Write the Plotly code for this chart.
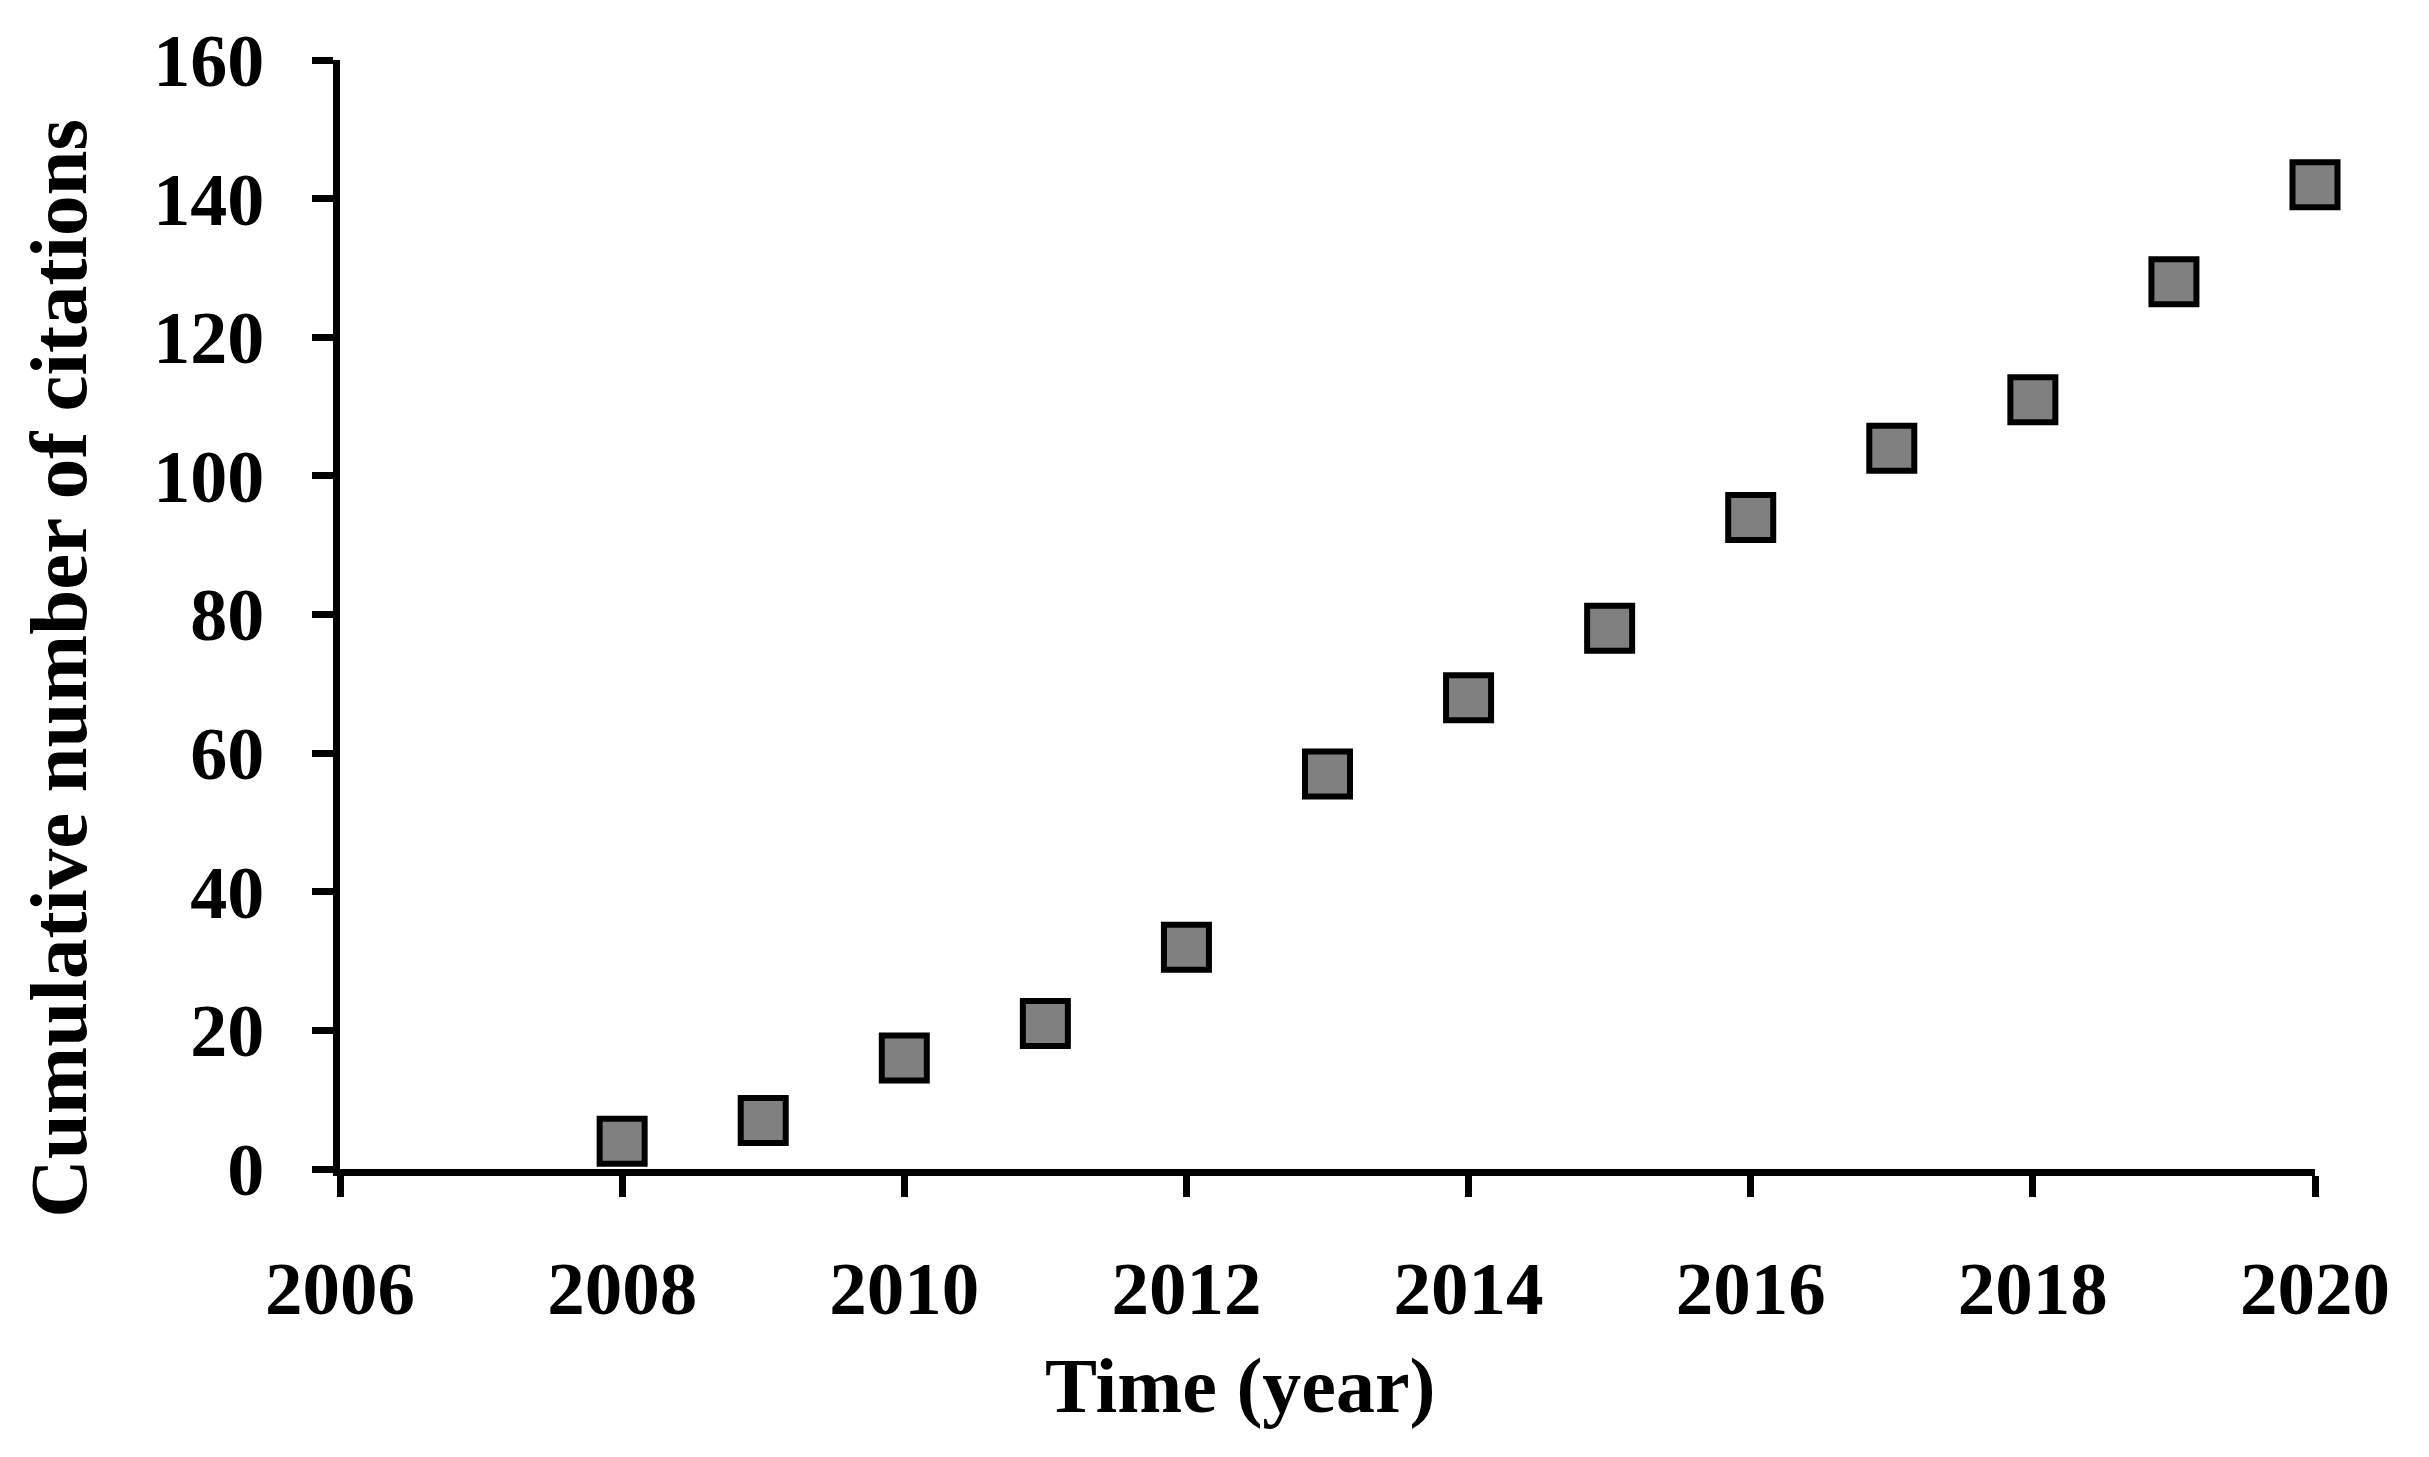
import plotly.graph_objects as go

years = [2008, 2009, 2010, 2011, 2012, 2013, 2014, 2015, 2016, 2017, 2018, 2019, 2020]
citations = [4, 7, 16, 21, 32, 57, 68, 78, 94, 104, 111, 128, 142]

x_ticks = [2006, 2008, 2010, 2012, 2014, 2016, 2018, 2020]
y_ticks = [0, 20, 40, 60, 80, 100, 120, 140, 160]

FONT = "Liberation Serif"

fig = go.Figure()
fig.add_trace(go.Scatter(
    x=years, y=citations, mode="markers",
    marker=dict(symbol="square", size=45, color="#808080",
                line=dict(color="black", width=6)),
    cliponaxis=False, showlegend=False,
))

fig.update_layout(
    width=2429, height=1457,
    margin=dict(l=332, r=122, t=48, b=296, pad=0),
    paper_bgcolor="white", plot_bgcolor="white",
    font=dict(family=FONT, color="black"),
)
fig.update_xaxes(
    range=[2006, 2020], tickvals=x_ticks, ticktext=[str(v) for v in x_ticks],
    showgrid=False, zeroline=False, showline=True, linecolor="black", linewidth=7,
    ticks="outside", ticklen=21, tickwidth=7, tickcolor="black",
    tickfont=dict(family=FONT, size=75, color="black", weight="bold"),
    ticklabelstandoff=27,
)
fig.update_yaxes(
    range=[0, 160], tickvals=y_ticks, ticktext=[str(v) for v in y_ticks],
    showgrid=False, zeroline=False, showline=True, linecolor="black", linewidth=7,
    ticks="outside", ticklen=21, tickwidth=7, tickcolor="black",
    tickfont=dict(family=FONT, size=74, color="black", weight="bold"),
    ticklabelstandoff=33,
)

fig.add_annotation(
    text="<b>Time (year)</b>", xref="paper", yref="paper",
    x=0.456, y=-0.195, xanchor="center", yanchor="middle", showarrow=False,
    font=dict(family=FONT, size=78, color="black"),
)
fig.add_annotation(
    text="<b>Cumulative number of citations</b>", xref="paper", yref="paper",
    x=-0.1423, y=0.452, xanchor="center", yanchor="middle", showarrow=False,
    textangle=-90, font=dict(family=FONT, size=81, color="black"),
)

fig.write_html("out.html")
